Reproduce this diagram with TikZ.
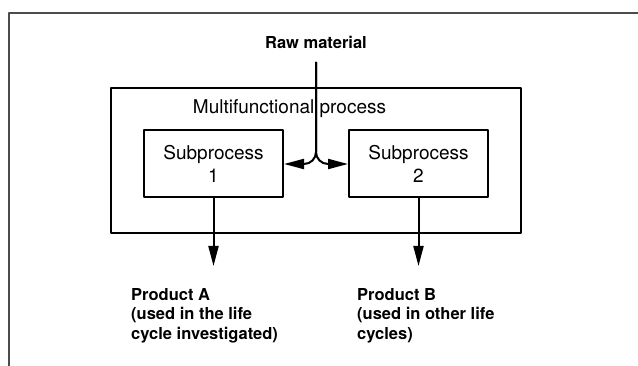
\documentclass[tikz,border=0pt]{standalone}
\usepackage{fontspec}
\setmainfont{TeX Gyre Heros}
\usepackage{tikz}
\usetikzlibrary{arrows.meta}
\usetikzlibrary{shapes}
\begin{document}
\begin{tikzpicture}[x=1pt,y=-1pt,line join=round,
  subbox/.style={draw,line width=2pt,inner sep=0pt,minimum width=139pt,minimum height=67pt,align=center,font=\fontsize{19}{23}\selectfont},
  flow/.style={arrows=-{Triangle[length=20pt,width=10pt]},line width=2pt},
  prod/.style={anchor=north west,inner sep=0pt,align=left,font=\fontsize{16.5}{19.5}\selectfont\bfseries}]
\useasboundingbox (0,0) rectangle (638,366);
\draw[line width=1.4pt,black!70](638,13)--(9,13)--(9,366);
\node[draw,line width=2pt,inner sep=0pt,minimum width=410pt,minimum height=145pt] (multi) at (316,160.5) {};
\node[inner sep=0pt,font=\fontsize{19}{23}\selectfont] (multilabel) at (289.5,109) {Multifunctional process};
\node[subbox] (sub1) at (213.5,164) {Subprocess\\1};
\node[subbox] (sub2) at (418.5,164) {Subprocess\\2};
\node[inner sep=0pt,font=\fontsize{16.5}{19.5}\selectfont\bfseries] (raw) at (316,42) {Raw material};
\coordinate (rawin) at (316,62);
\coordinate (outA) at (213.5,266);
\coordinate (outB) at (418.5,266);
\draw[flow,rounded corners=12pt] (rawin) |- (sub1.east);
\draw[flow,rounded corners=12pt] (rawin) |- (sub2.west);
\draw[flow] (sub1) -- (outA);
\draw[flow] (sub2) -- (outB);
\node[prod] (prodA) at (131,288) {Product A\\(used in the life\\cycle investigated)};
\node[prod] (prodB) at (357,288) {Product B\\(used in other life\\cycles)};
\end{tikzpicture}
\end{document}
